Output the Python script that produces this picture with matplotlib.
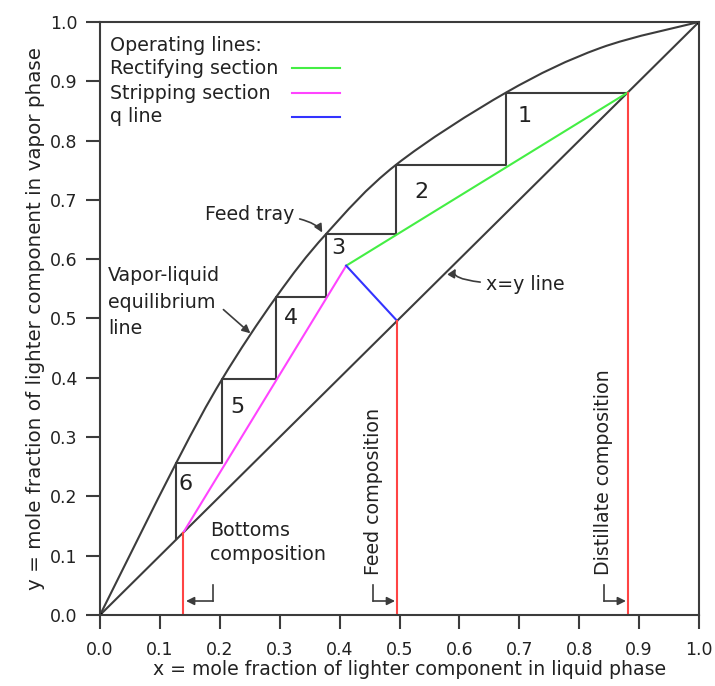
import numpy as np
import matplotlib.pyplot as plt
from matplotlib.path import Path
from matplotlib.patches import PathPatch

# McCabe-Thiele diagram, values
# vapor-liquid equilibrium curve
vle_x = [0.0, 0.127, 0.204, 0.294, 0.377, 0.494, 0.678, 0.835, 1.0]
vle_y = [0.0, 0.256, 0.398, 0.536, 0.642, 0.759, 0.881, 0.956, 1.0]

# compositions
x_bottoms = 0.139
x_feed = 0.496
x_dist = 0.881
x_int, y_int = 0.411, 0.589   # where q line meets the operating lines

# trays: liquid x on the equilibrium curve and vapor y
tray_x = [0.678, 0.494, 0.377, 0.294, 0.204, 0.127]
tray_y = [0.881, 0.759, 0.642, 0.536, 0.398, 0.256, 0.128]
tray_labels = ['1', '2', '3', '4', '5', '6']
label_x = [0.7095, 0.536, 0.397, 0.319, 0.230, 0.142]
label_y = [0.841, 0.713, 0.619, 0.501, 0.351, 0.221]

ticks = [0.0, 0.1, 0.2, 0.3, 0.4, 0.5, 0.6, 0.7, 0.8, 0.9, 1.0]

dark = '#3c3c3c'
txt = '#222222'
green = '#44ee44'
magenta = '#ff44ff'
blue = '#3333ff'
red = '#ff4444'

fig = plt.figure(figsize=(7.15, 6.86), dpi=100)
ax = fig.add_axes([0.1399, 0.1035, 0.8377, 0.8645])
ax.set_xlim(0, 1)
ax.set_ylim(0, 1)

# equilibrium curve drawn as a smooth bezier path through the read points
p = np.column_stack([vle_x, vle_y])
verts = [p[0]]
codes = [Path.MOVETO]
for i in range(len(p) - 1):
    p0 = p[i - 1] if i > 0 else p[i]
    p3 = p[i + 2] if i + 2 < len(p) else p[i + 1]
    verts += [p[i] + (p[i + 1] - p0) / 6, p[i + 1] - (p3 - p[i]) / 6, p[i + 1]]
    codes += [Path.CURVE4] * 3
ax.add_patch(PathPatch(Path(verts, codes), fill=False, edgecolor=dark, lw=1.5))

# x=y line
ax.plot([0, 1], [0, 1], color=dark, lw=1.5)
ax.plot([0, 1], [0, 1], 'o', color='black', ms=3)

# stair steps
sx = [x_dist]
sy = [tray_y[0]]
for i in range(len(tray_x)):
    sx += [tray_x[i], tray_x[i]]
    sy += [tray_y[i], tray_y[i + 1]]
ax.plot(sx, sy, color=dark, lw=1.5)

# operating lines
ax.plot([x_dist, x_int], [x_dist, y_int], color=green, lw=1.5)
ax.plot([x_bottoms, x_int], [x_bottoms, y_int], color=magenta, lw=1.5)
ax.plot([x_feed, x_int], [x_feed, y_int], color=blue, lw=1.5)

# composition verticals
for xc in [x_bottoms, x_feed, x_dist]:
    ax.plot([xc, xc], [0, xc], color=red, lw=1.5)

for t, lx, ly in zip(tray_labels, label_x, label_y):
    ax.text(lx, ly, t, fontsize=16, ha='center', va='center', color=txt)

# legend drawn by hand
fs = 13.7
ax.text(0.0167, 0.961, 'Operating lines:', fontsize=fs, va='center', color=txt)
leg_names = ['Rectifying section', 'Stripping section', 'q line']
leg_cols = [green, magenta, blue]
leg_y = [0.922, 0.880, 0.840]
for name, c, yy in zip(leg_names, leg_cols, leg_y):
    ax.text(0.0167, yy, name, fontsize=fs, va='center', color=txt)
    ax.plot([0.32, 0.40], [yy, yy], color=c, lw=1.5)

arrow = dict(arrowstyle='-|>', color=dark, lw=1.2, mutation_scale=12)

# annotations
ax.annotate('Feed tray', xy=(0.371, 0.645), xytext=(0.175, 0.676),
            fontsize=fs, va='center', color=txt,
            arrowprops=dict(arrow, connectionstyle='angle3,angleA=0,angleB=-60',
                            shrinkA=2, shrinkB=0))
ax.text(0.0134, 0.527, 'Vapor-liquid\nequilibrium\nline', fontsize=fs, va='center',
        linespacing=1.5, color=txt)
ax.annotate('', xy=(0.251, 0.475), xytext=(0.206, 0.515),
            arrowprops=dict(arrow, shrinkA=0, shrinkB=0))
ax.annotate('x=y line', xy=(0.594, 0.584), xytext=(0.644, 0.558),
            fontsize=fs, va='center', color=txt,
            arrowprops=dict(arrow, connectionstyle='angle3,angleA=0,angleB=60',
                            shrinkA=2, shrinkB=0))
ax.text(0.183, 0.1225, 'Bottoms\ncomposition', fontsize=fs, va='center',
        linespacing=1.3, color=txt)
ax.text(0.4558, 0.068, 'Feed composition', fontsize=fs, rotation=90,
        ha='center', va='bottom', color=txt)
ax.text(0.8414, 0.068, 'Distillate composition', fontsize=fs, rotation=90,
        ha='center', va='bottom', color=txt)

# bracket arrows to the composition lines
for x0, x1 in [(0.1887, 0.1436), (0.4558, 0.4925), (0.8414, 0.878)]:
    ax.plot([x0, x0], [0.0506, 0.0236], color=dark, lw=1.2)
    ax.annotate('', xy=(x1, 0.0236), xytext=(x0, 0.0236),
                arrowprops=dict(arrow, shrinkA=0, shrinkB=0))

ax.set_xticks(ticks)
ax.set_yticks(ticks)
ax.set_xticklabels(['%.1f' % t for t in ticks])
ax.set_yticklabels(['%.1f' % t for t in ticks])
ax.tick_params(direction='out', length=10, width=1.5, color=dark, labelsize=12.5,
               labelcolor=txt)
ax.tick_params(axis='x', pad=8.5)
ax.tick_params(axis='y', pad=6)
for s in ax.spines.values():
    s.set_color(dark)
    s.set_linewidth(1.5)

ax.set_xlabel('x = mole fraction of lighter component in liquid phase', fontsize=13.6,
              color=txt)
ax.xaxis.set_label_coords(0.517, -0.076)
ax.set_ylabel('y = mole fraction of lighter component in vapor phase', fontsize=14.3,
              color=txt, labelpad=4)

fig.savefig('out.png', dpi=100)
